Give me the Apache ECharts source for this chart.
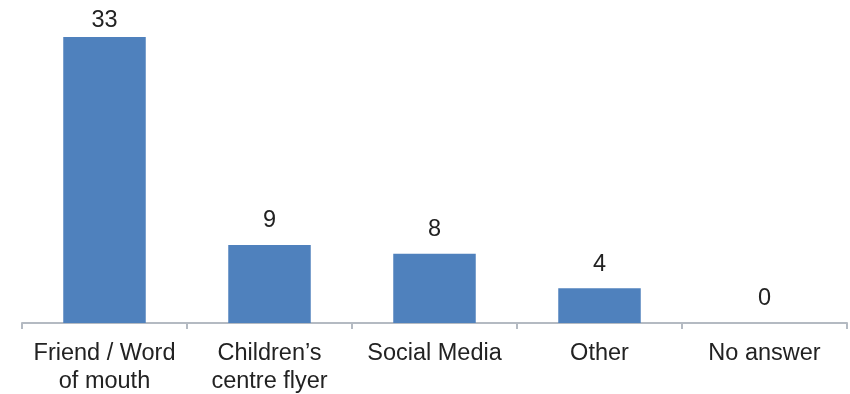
<!DOCTYPE html>
<html><head><meta charset="utf-8">
<script src="https://cdn.jsdelivr.net/npm/echarts@6/dist/echarts.min.js"></script>
<style>html,body{margin:0;padding:0;background:#fff}#c{width:850px;height:394px}</style>
</head><body><div id="c"></div>
<script>
const categories = ["Friend / Word\nof mouth", "Children\u2019s\ncentre flyer", "Social Media", "Other", "No answer"];
const values = [33, 9, 8, 4, 0];

const chart = echarts.init(document.getElementById('c'), null, {renderer: 'canvas'});
const maxV = Math.max.apply(null, values);
chart.setOption({
  animation: false,
  grid: {left: 22, right: 3, top: 37, bottom: 71, containLabel: false, outerBoundsMode: 'none'},
  xAxis: {
    type: 'category', data: categories,
    axisLine: {lineStyle: {color: '#b4bac2', width: 2}},
    axisTick: {show: true, length: 6, lineStyle: {color: '#b4bac2', width: 2}},
    axisLabel: {color: '#222', fontFamily: 'Liberation Sans, Arial, sans-serif', fontSize: 23.5, lineHeight: 28, margin: 17, interval: 0}
  },
  yAxis: {type: 'value', min: 0, max: 33, show: false, splitLine: {show: false}},
  series: [{
    type: 'bar',
    data: values.map(v => v === maxV ? {value: v, label: {distance: 4}} : v),
    barWidth: '50%',
    itemStyle: {color: '#4f81bd'},
    label: {show: true, position: 'top', distance: 12, color: '#222', fontFamily: 'Liberation Sans, Arial, sans-serif', fontSize: 23.5}
  }]
});
</script></body></html>
